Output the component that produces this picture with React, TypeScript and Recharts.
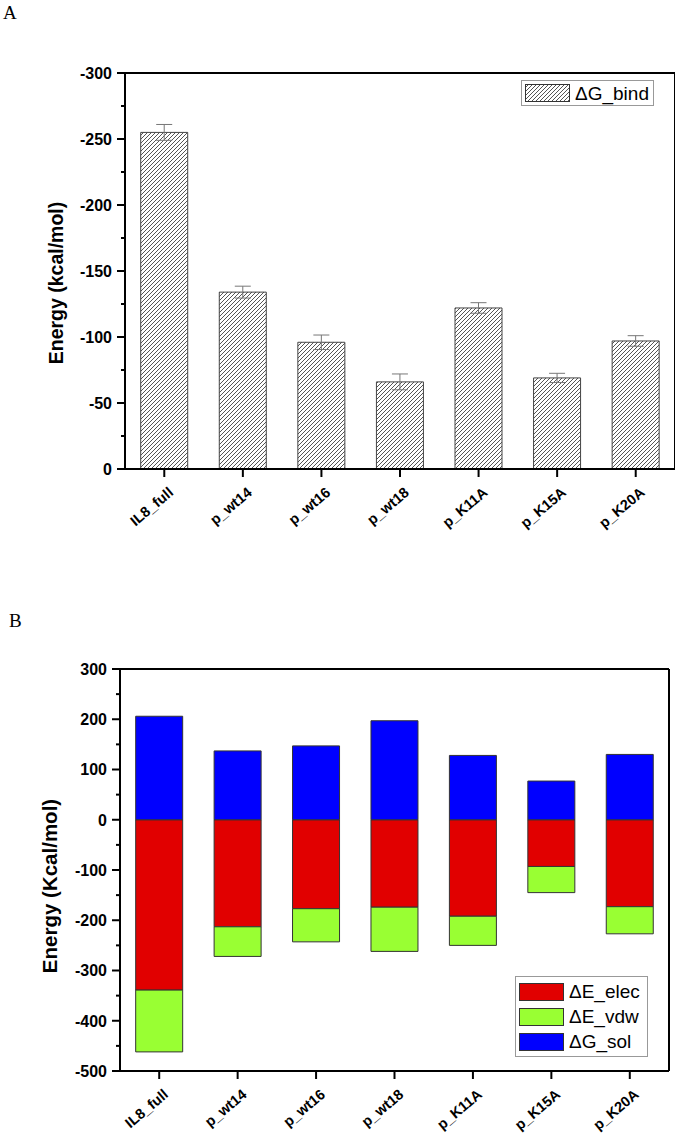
import React from "react";
import {
  BarChart,
  Bar,
  XAxis,
  YAxis,
  ErrorBar,
  Legend,
  ReferenceLine,
} from "recharts";

const categories = ["IL8_full", "p_wt14", "p_wt16", "p_wt18", "p_K11A", "p_K15A", "p_K20A"];

// panel A: binding energy and its error
const bindValues = [-255, -134, -96, -66, -122, -69, -97];
const bindErrors = [6, 4.5, 5.5, 6, 4, 3.5, 4];

// panel B: energy terms
const elecValues = [-339, -213, -177, -174, -192, -93, -173];
const vdwValues = [-123, -59, -66, -88, -58, -52, -54];
const solValues = [206, 137, 147, 197, 128, 77, 130];

const ticksA = [-300, -275, -250, -225, -200, -175, -150, -125, -100, -75, -50, -25, 0];
const majorTicksA = [-300, -250, -200, -150, -100, -50, 0];
const ticksB = [-500, -450, -400, -350, -300, -250, -200, -150, -100, -50, 0, 50, 100, 150, 200, 250, 300];
const majorTicksB = [-500, -400, -300, -200, -100, 0, 100, 200, 300];

const FONT = "Arial, 'Liberation Sans', sans-serif";
const axisStyle = { stroke: "#000", strokeWidth: 2 };

const dataA = categories.map((name, i) => ({ name, bind: bindValues[i], err: bindErrors[i] }));
const dataB = categories.map((name, i) => ({
  name,
  elec: elecValues[i],
  vdw: vdwValues[i],
  sol: solValues[i],
}));

const YTick = (props: any) => {
  const { y, payload, axisX, majors } = props;
  const major = majors.includes(payload.value);
  return (
    <g>
      <line x1={axisX - (major ? 8 : 4)} x2={axisX} y1={y} y2={y} stroke="#000" strokeWidth={2} />
      {major && (
        <text
          x={axisX - 13}
          y={y}
          dy="0.36em"
          textAnchor="end"
          fontFamily={FONT}
          fontWeight="bold"
          fontSize={16}
          fill="#000"
        >
          {payload.value}
        </text>
      )}
    </g>
  );
};

const XTick = (props: any) => {
  const { x, y, payload } = props;
  const ax = x + 10;
  const ay = y + 15;
  return (
    <text
      x={ax}
      y={ay}
      transform={`rotate(-40, ${ax}, ${ay})`}
      textAnchor="end"
      fontFamily={FONT}
      fontWeight="bold"
      fontSize={14.5}
      fill="#000"
    >
      {payload.value}
    </text>
  );
};

const BoxLegend = (props: any) => {
  const { payload, rowHeight } = props;
  return (
    <div
      style={{
        border: "1px solid #999",
        background: "#fff",
        padding: "2px 3px",
        boxSizing: "border-box",
        width: "100%",
      }}
    >
      {(payload || []).map((p: any) => (
        <div key={p.value} style={{ display: "flex", alignItems: "center", height: rowHeight }}>
          <svg width={45} height={18} style={{ display: "block" }}>
            <rect x={0.5} y={0.5} width={44} height={17} fill={p.color} stroke="#333" />
          </svg>
          <span style={{ marginLeft: 5, fontSize: 19, fontFamily: FONT, color: "#000", lineHeight: 1 }}>
            {p.value}
          </span>
        </div>
      ))}
    </div>
  );
};

const PanelA = () => (
  <BarChart
    width={675}
    height={549}
    data={dataA}
    margin={{ top: 73, right: 0, bottom: 0, left: 0 }}
    barCategoryGap="20%"
  >
    <defs>
      <pattern id="hatchA" patternUnits="userSpaceOnUse" width={4} height={4}>
        <rect width={4} height={4} fill="#fff" />
        <path d="M-1,1 l2,-2 M0,4 l4,-4 M3,5 l2,-2" stroke="#555" strokeWidth={1} />
      </pattern>
    </defs>
    <XAxis
      dataKey="name"
      interval={0}
      height={80}
      tickSize={8}
      axisLine={axisStyle}
      tickLine={axisStyle}
      tick={<XTick />}
    />
    <YAxis
      domain={[-300, 0]}
      reversed
      ticks={ticksA}
      interval={0}
      width={125}
      axisLine={axisStyle}
      tickLine={false}
      tick={<YTick axisX={125} majors={majorTicksA} />}
    />
    <YAxis
      yAxisId="right"
      orientation="right"
      domain={[-300, 0]}
      reversed
      ticks={majorTicksA}
      interval={0}
      width={10}
      mirror
      tick={false}
      tickSize={8}
      axisLine={axisStyle}
      tickLine={axisStyle}
    />
    <ReferenceLine y={-300} stroke="#000" strokeWidth={2} />
    <Bar dataKey="bind" name="ΔG_bind" fill="url(#hatchA)" stroke="#444" strokeWidth={1} isAnimationActive={false}>
      <ErrorBar dataKey="err" width={8} stroke="#777" strokeWidth={1} direction="y" />
    </Bar>
    <Legend
      layout="vertical"
      align="center"
      verticalAlign="middle"
      content={<BoxLegend rowHeight={20} />}
      wrapperStyle={{ left: 521, top: 80, width: 133 }}
    />
  </BarChart>
);

const PanelB = () => (
  <BarChart
    width={675}
    height={551}
    data={dataB}
    margin={{ top: 69, right: 0, bottom: 0, left: 0 }}
    barCategoryGap="20%"
    stackOffset="sign"
  >
    <XAxis
      dataKey="name"
      interval={0}
      height={80}
      tickSize={8}
      axisLine={axisStyle}
      tickLine={axisStyle}
      tick={<XTick />}
    />
    <YAxis
      domain={[-500, 300]}
      ticks={ticksB}
      interval={0}
      width={120}
      axisLine={axisStyle}
      tickLine={false}
      tick={<YTick axisX={120} majors={majorTicksB} />}
    />
    <YAxis
      yAxisId="right"
      orientation="right"
      domain={[-500, 300]}
      width={6}
      tick={false}
      tickLine={false}
      axisLine={axisStyle}
    />
    <ReferenceLine y={300} stroke="#000" strokeWidth={2} />
    <Bar dataKey="elec" name="ΔE_elec" stackId="e" fill="#e10000" stroke="#333" strokeWidth={1} isAnimationActive={false} />
    <Bar dataKey="vdw" name="ΔE_vdw" stackId="e" fill="#99ff33" stroke="#333" strokeWidth={1} isAnimationActive={false} />
    <Bar dataKey="sol" name="ΔG_sol" stackId="e" fill="#0000ff" stroke="#333" strokeWidth={1} isAnimationActive={false} />
    <Legend
      layout="vertical"
      align="center"
      verticalAlign="middle"
      content={<BoxLegend rowHeight={25} />}
      wrapperStyle={{ left: 515, top: 376, width: 133 }}
    />
  </BarChart>
);

export default function App() {
  return (
    <div
      style={{
        position: "absolute",
        left: 0,
        top: 0,
        width: 675,
        height: 1135,
        background: "#fff",
        overflow: "hidden",
      }}
    >
      <div style={{ position: "absolute", left: 0, top: 0 }}>
        <PanelA />
      </div>
      <div style={{ position: "absolute", left: 0, top: 600 }}>
        <PanelB />
      </div>
      <svg
        width={675}
        height={1135}
        style={{ position: "absolute", left: 0, top: 0, pointerEvents: "none" }}
      >
        <text x={3} y={19} fontFamily="'Liberation Serif', 'Times New Roman', serif" fontSize={19}>
          A
        </text>
        <text x={9} y={627} fontFamily="'Liberation Serif', 'Times New Roman', serif" fontSize={19}>
          B
        </text>
        <text
          x={63}
          y={283}
          transform="rotate(-90, 63, 283)"
          textAnchor="middle"
          fontFamily={FONT}
          fontWeight="bold"
          fontSize={19.5}
        >
          Energy (kcal/mol)
        </text>
        <text
          x={57}
          y={886}
          transform="rotate(-90, 57, 886)"
          textAnchor="middle"
          fontFamily={FONT}
          fontWeight="bold"
          fontSize={20.5}
        >
          Energy (Kcal/mol)
        </text>
      </svg>
    </div>
  );
}
